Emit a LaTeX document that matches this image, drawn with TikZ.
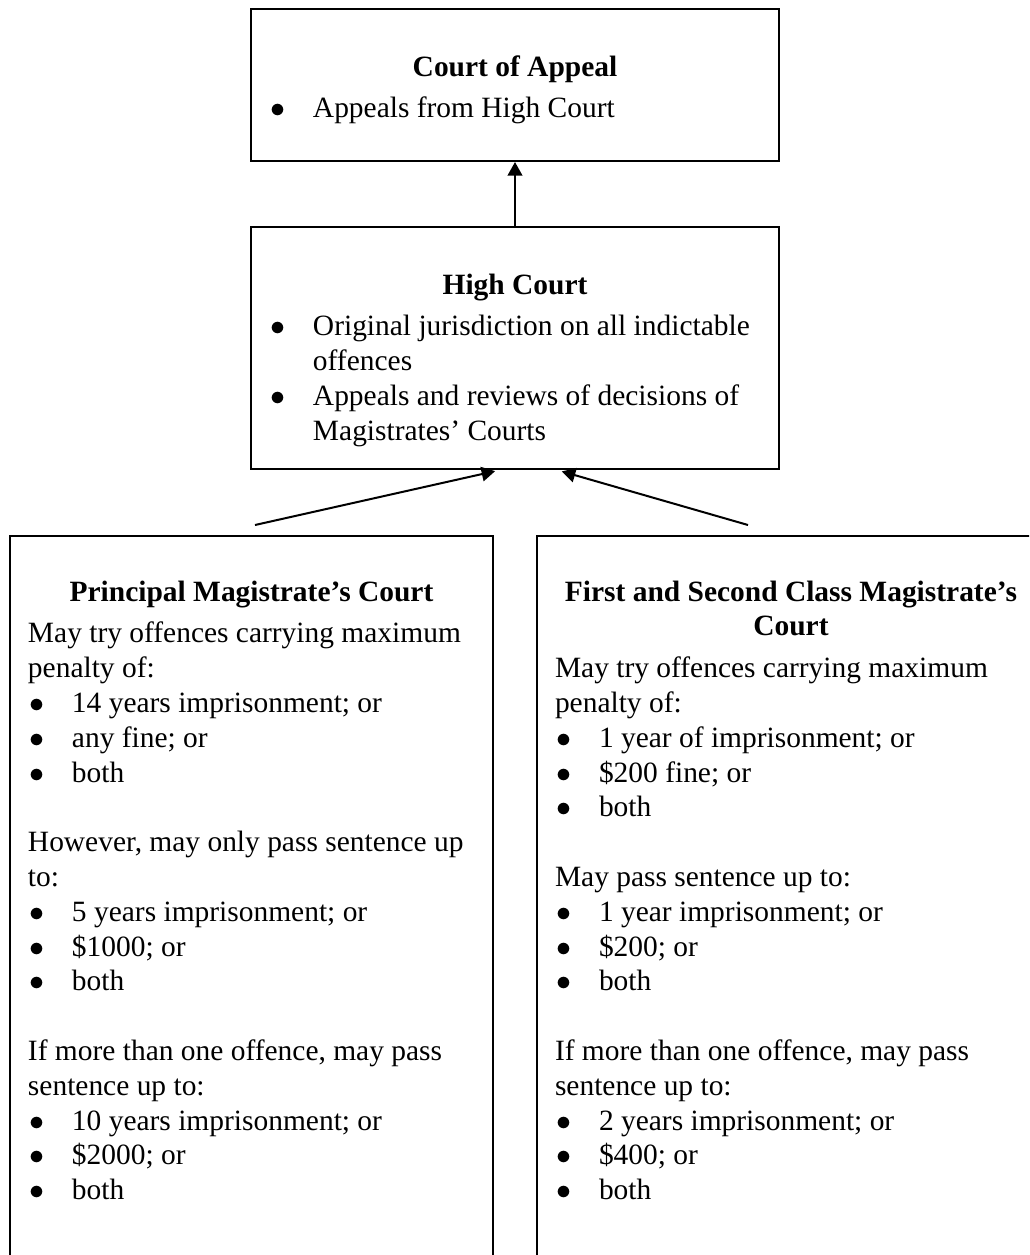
\documentclass[tikz,border=0pt]{standalone}
\usepackage{fontspec}
\setmainfont{Liberation Serif}
\usetikzlibrary{arrows.meta}

\newcommand{\itm}[1]{\par\noindent\hangindent=17.6pt\hangafter=1\makebox[17.6pt][l]{\hspace{0.6pt}$\bullet$}#1\par}

\tikzset{
  court/.style={draw,line width=0.8pt,inner xsep=7.2pt,inner ysep=0pt,anchor=north,
    font=\fontsize{11.78pt}{13.92pt}\selectfont},
  conn/.style={-{Triangle[length=5.4pt,width=5.8pt]},line width=0.8pt}
}

\begin{document}
\begin{tikzpicture}[x=0.4pt,y=-0.4pt]

  \useasboundingbox (0,0) rectangle (1029,1255);
  \clip (0,0) rectangle (1029,1255);

  % Court of Appeal
  \node[court] (appeal) at (515,8) {\begin{minipage}[t][60.8pt][t]{196.8pt}\vspace*{17.06pt}%
    {\centering\strut\textbf{Court of Appeal}\par}\vspace{2.8pt}\raggedright
    \itm{Appeals from High Court}\end{minipage}};

  % High Court
  \node[court] (high) at (515,226) {\begin{minipage}[t][96.8pt][t]{196.8pt}\vspace*{17.06pt}%
    {\centering\strut\textbf{High Court}\par}\vspace{2.8pt}\raggedright
    \itm{Original jurisdiction on all indictable\newline offences}
    \itm{Appeals and reviews of decisions of\newline Magistrates’ Courts}\end{minipage}};

  % Magistrates
  \node[court] (principal) at (251.5,535) {\begin{minipage}[t][296pt][t]{178.8pt}\vspace*{16.26pt}%
    {\centering\strut\textbf{Principal Magistrate’s Court}\par}\vspace{2.8pt}\raggedright
    May try offences carrying maximum\newline penalty of:\par
    \itm{14 years imprisonment; or}
    \itm{any fine; or}
    \itm{both}
    \vspace{\baselineskip}
    However, may only pass sentence up\newline to:\par
    \itm{5 years imprisonment; or}
    \itm{\$1000; or}
    \itm{both}
    \vspace{\baselineskip}
    If more than one offence, may pass\newline sentence up to:\par
    \itm{10 years imprisonment; or}
    \itm{\$2000; or}
    \itm{both}\end{minipage}};

  \node[court] (firstsecond) at (791,535) {\begin{minipage}[t][296pt][t]{188.8pt}\vspace*{16.26pt}%
    {\centering\strut\textbf{First and Second Class Magistrate’s\\ Court}\par}\vspace{2.8pt}\raggedright
    May try offences carrying maximum\newline penalty of:\par
    \itm{1 year of imprisonment; or}
    \itm{\$200 fine; or}
    \itm{both}
    \vspace{\baselineskip}
    May pass sentence up to:\par
    \itm{1 year imprisonment; or}
    \itm{\$200; or}
    \itm{both}
    \vspace{\baselineskip}
    If more than one offence, may pass\newline sentence up to:\par
    \itm{2 years imprisonment; or}
    \itm{\$400; or}
    \itm{both}\end{minipage}};

  \coordinate (ptail) at (255,525);
  \coordinate (ftail) at (748,525);

  \draw[conn] (high.north) to (appeal.south);
  \draw[conn,shorten >=2pt] (ptail) to (high.263);
  \draw[conn,shorten >=2pt] (ftail) to (high.289);

\end{tikzpicture}
\end{document}
